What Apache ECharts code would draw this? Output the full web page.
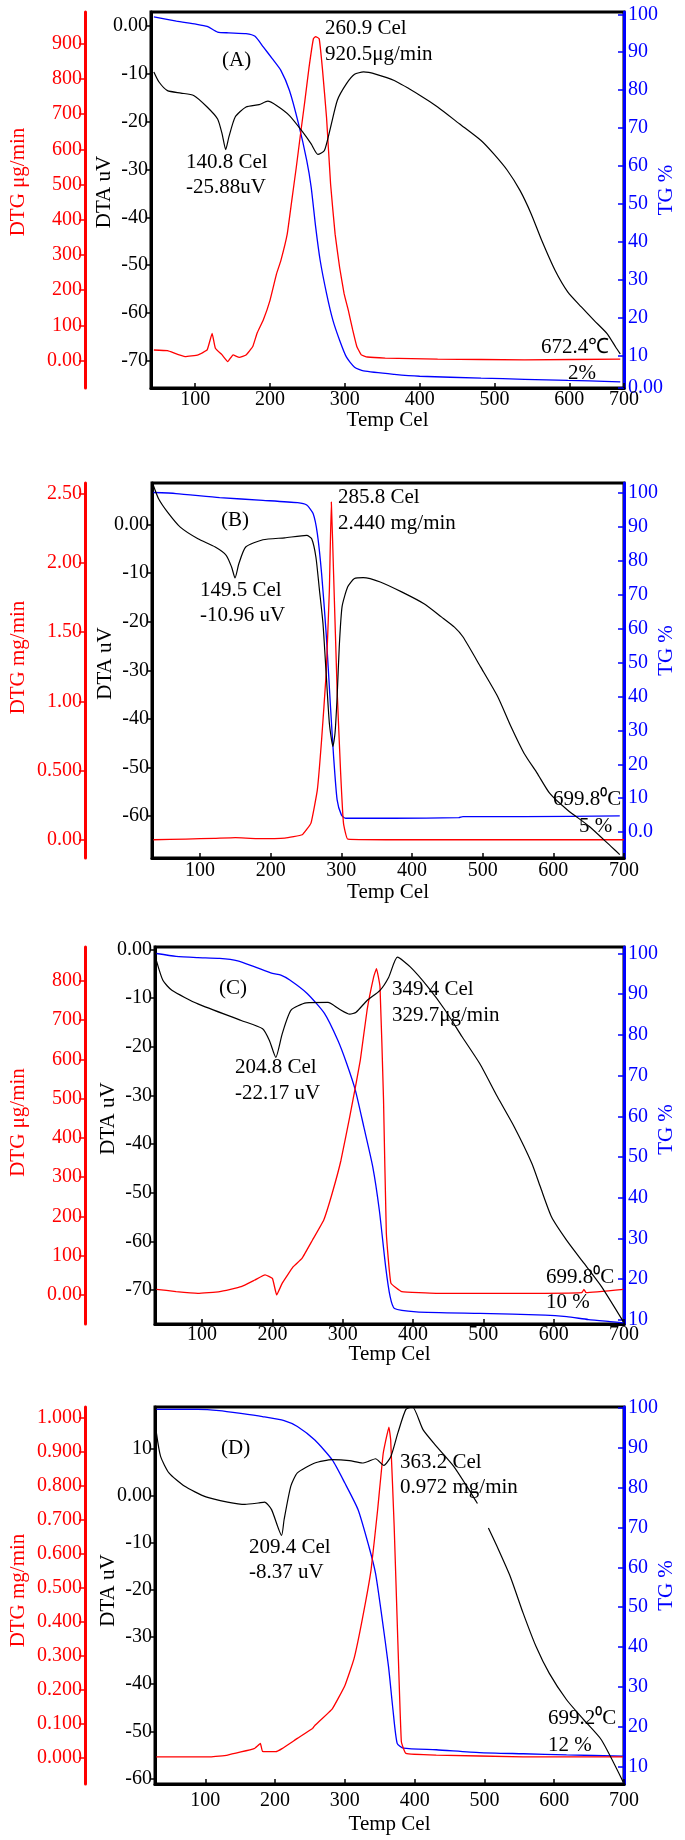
<!DOCTYPE html>
<html><head><meta charset="utf-8">
<script src="https://cdn.jsdelivr.net/npm/echarts@6/dist/echarts.min.js"></script>
<style>html,body{margin:0;padding:0;background:#fff}#c{width:685px;height:1840px}</style>
</head><body><div id="c"></div>
<script>
// ===== Panel A =====
const aTgT  = [44.8,75,101,116,130,145,168,180,191,203,214.5,226,238,249,255,261,267,275.6,284,293,302,313,325,366,400,482,540,598,627,668];
const aTgV  = [99.3,98.2,97.4,96.8,95.3,95.1,94.9,94.2,91.4,88.3,85.2,79.9,71.2,61.5,54.4,43.9,35.1,26.3,19.3,14,9.6,6.9,5.9,5.0,4.5,4.0,3.7,3.4,3.3,3.0];
const aDtgT = [44.8,63,86.6,104,116,122.7,127,136,143.6,150.6,159,168,177,182.6,191,200,208.7,214.5,223,229,235,240.7,246.5,252,258,261,265.7,270,275.6,281,287,293,299,304.6,310.5,316,322,330,354,424,540,668];
const aDtgV = [30,28,11,16,30,77,35,16,-3,16,9,16,40,77,115,171,246,284,359,453,547,642,736,830,914,920,914,830,689,500,359,265,190,143,87,40,16,10,7,4,2,4];
const aDtaT = [44.8,51.7,63,81,98,116,130,136,140.8,145,153.5,168,185.5,197,208.7,226,243.6,255,264,272.7,281,290,302,313,325,342,366,400.6,424,453,482,499,517,534,549,563,581,598,616,633,650.6,662,668];
const aDtaV = [-9.7,-11.8,-13.6,-14.1,-14.6,-17.0,-19.5,-22.6,-25.88,-23.3,-19.1,-17.0,-16.5,-15.8,-16.7,-18.8,-22.2,-24.7,-26.9,-26.1,-21.2,-15.6,-12.2,-10.2,-9.7,-10.2,-11.5,-14.6,-17.0,-20.5,-24,-26.8,-30.2,-34.4,-39.3,-44.8,-51.1,-55.6,-58.7,-61.5,-64.3,-67.1,-68.5];
const aXTicks = [100,200,300,400,500,600,673];
const aXLabels = ['100','200','300','400','500','600','700'];
const aDtgTicks = [0,100,200,300,400,500,600,700,800,900];
const aDtgLabels = ['0.00','100','200','300','400','500','600','700','800','900'];
const aDtaTicks = [0,-10,-20,-30,-40,-50,-60,-70];
const aDtaLabels = ['0.00','-10','-20','-30','-40','-50','-60','-70'];
const aTgTicks = [1.4,10,20,30,40,50,60,70,80,90,100];
const aTgLabels = ['0.00','10','20','30','40','50','60','70','80','90','100'];

// ===== Panel B =====
const bTgT  = [34,66,127.7,189,238,251,260,266,272,278.5,284.6,289,294,300,306,374,466,472,558,694];
const bTgV  = [100,99.7,98.5,97.7,97,96.3,93.8,87.9,76.2,58.5,37,22.3,9.5,5.1,4.1,4.1,4.3,4.6,4.6,4.8];
const bDtgT = [34,80,120,150,180,220,244.6,257,266,272,278.5,283,285.8,289,294,299,303,309,400,550,700];
const bDtgV = [0.0,0.005,0.01,0.015,0.008,0.012,0.036,0.12,0.36,0.72,1.20,1.80,2.44,1.92,1.08,0.48,0.12,0.005,0.0,0.0,0.0];
const bDtaT = [34,41.5,54,72,97,121.5,137,144.6,149.5,155,164.6,189,220,251,258,264,269,274,278.5,283,288,291,294,297,301,309,318.5,331,355,386,417,441.5,460,472,497,521.5,540,558.5,577,595,620,651,681.5,694];
const bDtaV = [8.1,5.3,2.6,-0.5,-2.9,-4.6,-6.3,-8.7,-10.96,-8.0,-4.6,-3.1,-2.7,-2.2,-2.9,-6.7,-13.5,-20.4,-30.7,-40.9,-45.7,-43,-35.5,-25.2,-16.9,-12.8,-11.1,-10.9,-11.8,-13.9,-16.3,-19,-21.1,-23.1,-29.3,-35.5,-41.6,-47.1,-51.2,-55.4,-58.8,-62.2,-66.3,-68];
const bXTicks = [100,200,300,400,500,600,700];
const bXLabels = ['100','200','300','400','500','600','700'];
const bDtgTicks = [0,0.5,1,1.5,2,2.5];
const bDtgLabels = ['0.00','0.500','1.00','1.50','2.00','2.50'];
const bDtaTicks = [0,-10,-20,-30,-40,-50,-60];
const bDtaLabels = ['0.00','-10','-20','-30','-40','-50','-60'];
const bTgTicks = [0,10,20,30,40,50,60,70,80,90,100];
const bTgLabels = ['0.0','10','20','30','40','50','60','70','80','90','100'];

// ===== Panel C =====
const cTgT  = [35,63,94,125,150.6,175,200,212,224.7,249.4,274,293,305.6,318,330,342.7,352,361,367.4,373.6,404.5,495,587.7,618.5,649.4,680,699];
const cTgV  = [100,99.3,99,98.8,98.2,96.7,95.1,94.7,93.5,90.2,85.3,78.7,73,66.4,57.4,47.6,37,23.1,15.7,12.8,12.0,11.6,11.2,10.8,10.1,9.6,9.3];
const cDtgT = [35,63,94,125,155.6,175,189.5,200,206,214,229.6,242,257,273,285,297.5,310,319,325,334.6,344,348,353,358,362,368.5,384,433,557,640,643,646,699];
const cDtgV = [14.4,8.5,4.2,8.5,21,38,51,42,0,30,72,93,140,191,259,343,454,539,598,725,810,831,785,497,157,30,8.5,4.2,4.2,6,14,6,14.4];
const cDtaT = [35,44.4,57,94,155.6,186,195.7,204.8,214,226.5,248,279,294.4,310,319,334.6,353,365.4,377.8,396,421,445.7,470,495,520,544,569,581,597,618.5,643,668,699];
const cDtaV = [-2.3,-6.4,-8.4,-11.2,-14.6,-16.3,-18.7,-22.17,-17.3,-12.5,-11,-10.9,-12.2,-13.3,-12.9,-10.5,-8.4,-5.7,-1.6,-3.6,-7.7,-12.5,-18,-23.5,-30.3,-36.5,-44,-48.8,-55,-59.8,-64.5,-69.3,-76.5];
const cXTicks = [100,200,300,400,500,600,700];
const cXLabels = ['100','200','300','400','500','600','700'];
const cDtgTicks = [0,100,200,300,400,500,600,700,800];
const cDtgLabels = ['0.00','100','200','300','400','500','600','700','800'];
const cDtaTicks = [0,-10,-20,-30,-40,-50,-60,-70];
const cDtaLabels = ['0.00','-10','-20','-30','-40','-50','-60','-70'];
const cTgTicks = [10,20,30,40,50,60,70,80,90,100];
const cTgLabels = ['10','20','30','40','50','60','70','80','90','100'];

// ===== Panel D =====
const dTgT  = [30,89,120,151,182,213,232,257,282,300,319,334.6,344,353,362.6,369,375,384,431,493,555.5,617.7,698.6];
const dTgV  = [99.7,99.7,99.4,98.7,97.9,96.9,95.4,92,87,81.2,74.5,65.2,58.5,47.7,35.1,24.2,15.8,14.6,14.2,13.5,13.2,12.9,12.6];
const dDtgT = [30,107.5,132,170,179,182,201,210,232,253.7,257,282,300,313,325,337.7,347,355,363.2,365.7,370.7,376,381,387.5,431,555.5,698.6];
const dDtgV = [0.003,0.003,0.008,0.027,0.042,0.019,0.018,0.027,0.057,0.086,0.095,0.144,0.212,0.290,0.407,0.554,0.729,0.895,0.972,0.934,0.680,0.339,0.047,0.013,0.008,0.003,0.003];
const dDtaT = [30,36,48,70,101,132,157,176,185,195,209.4,213,222.6,232,257,282,306.6,325,334.6,344,356,366,376,387.5,397,412,431,456,474.6,490,497,505.7,518,537,555.5,574,593,617.7,642.6,667.5,698.6];
const dDtaV = [13.4,8.4,4.9,2.1,-0.2,-1.3,-1.8,-1.5,-1.3,-2.9,-8.37,-5,2.1,4.9,7.0,7.7,7.5,7.0,7.4,7.9,6.5,8.4,13.4,18.4,18.9,14.1,10.6,6.3,2.1,-1.6,null,-6.8,-10.7,-17.1,-24.9,-32,-37.7,-43.3,-47.6,-51.8,-60.7];
const dXTicks = [100,200,300,400,500,600,700];
const dXLabels = ['100','200','300','400','500','600','700'];
const dDtgTicks = [0,0.1,0.2,0.3,0.4,0.5,0.6,0.7,0.8,0.9,1.0];
const dDtgLabels = ['0.000','0.100','0.200','0.300','0.400','0.500','0.600','0.700','0.800','0.900','1.000'];
const dDtaTicks = [10,0,-10,-20,-30,-40,-50,-60];
const dDtaLabels = ['10','0.00','-10','-20','-30','-40','-50','-60'];
const dTgTicks = [10,20,30,40,50,60,70,80,90,100];
const dTgLabels = ['10','20','30','40','50','60','70','80','90','100'];

// ===== layout / style (not data) =====
const FONT = "'Liberation Serif','Times New Roman',serif";
const FS = 20;
const RED = '#ff0000', BLUE = '#0000ff', BLACK = '#000000';

const panels = [
  {grid:{left:150,top:12,width:476,height:376}, x:[41,673], dtg:[-78,990], dta:[-75.6,2.8], tgR:[1.4,100.6],
   xT:aXTicks,xL:aXLabels, gT:aDtgTicks,gL:aDtgLabels, dT:aDtaTicks,dL:aDtaLabels, tT:aTgTicks,tL:aTgLabels,
   dtgName:'DTG \u03bcg/min', tgS:[aTgT,aTgV], dtgS:[aDtgT,aDtgV], dtaS:[aDtaT,aDtaV], xm:2, xg:22, np:[36,16,20],
   texts:[['(A)',222,60],['260.9 Cel',325,28],['920.5\u03bcg/min',325,54],['140.8 Cel',186,162],['-25.88uV',186,187],['672.4\u2103',541,347],['2%',568,373]]},
  {grid:{left:151,top:483,width:476,height:375}, x:[32,700], dtg:[-0.132,2.577], dta:[-68.7,8.6], tgR:[-7.6,102.8],
   xT:bXTicks,xL:bXLabels, gT:bDtgTicks,gL:bDtgLabels, dT:bDtaTicks,dL:bDtaLabels, tT:bTgTicks,tL:bTgLabels,
   dtgName:'DTG mg/min', tgS:[bTgT,bTgV], dtgS:[bDtgT,bDtgV], dtaS:[bDtaT,bDtaV], xm:3, xg:24, np:[26,14,40],
   texts:[['(B)',221,520],['285.8 Cel',338,497],['2.440 mg/min',338,523],['149.5 Cel',200,590],['-10.96 uV',200,615],['699.8\u2070C',553,799],['5 %',579,826]]},
  {grid:{left:154,top:947,width:474,height:377}, x:[33,700], dtg:[-74,886], dta:[-77,0.5], tgR:[9.0,101.6],
   xT:cXTicks,xL:cXLabels, gT:cDtgTicks,gL:cDtgLabels, dT:cDtaTicks,dL:cDtaLabels, tT:cTgTicks,tL:cTgLabels,
   dtgName:'DTG \u03bcg/min', tgS:[cTgT,cTgV], dtgS:[cDtgT,cDtgV], dtaS:[cDtaT,cDtaV], xm:1, xg:20, np:[26,34,12],
   texts:[['(C)',219,988],['349.4 Cel',392,989],['329.7\u03bcg/min',392,1015],['204.8 Cel',235,1067],['-22.17 uV',235,1093],['699.8\u2070C',546,1277],['10 %',546,1302]]},
  {grid:{left:154,top:1407,width:474,height:377}, x:[28,700], dtg:[-0.077,1.031], dta:[-61.2,18.9], tgR:[5.6,100.3],
   xT:dXTicks,xL:dXLabels, gT:dDtgTicks,gL:dDtgLabels, dT:dDtaTicks,dL:dDtaLabels, tT:dTgTicks,tL:dTgLabels,
   dtgName:'DTG mg/min', tgS:[dTgT,dTgV], dtgS:[dDtgT,dDtgV], dtaS:[dDtaT,dDtaV], xm:7, xg:30, np:[10,10,20],
   texts:[['(D)',221,1448],['363.2 Cel',400,1462],['0.972 mg/min',400,1487],['209.4 Cel',249,1547],['-8.37 uV',249,1572],['699.2\u2070C',548,1718],['12 %',548,1745]]}
];

function fmt(vals, labels){
  return function(v){
    for (let i=0;i<vals.length;i++){ if (Math.abs(vals[i]-v) < 1e-6*Math.max(1,Math.abs(v))) return labels[i]; }
    return '';
  };
}
function pairs(t, v){ return t.map((x,i)=> [x, v[i]]); }

const grids=[], xAxes=[], yAxes=[], series=[], graphics=[];
panels.forEach((p, i) => {
  grids.push(Object.assign({show:true, borderColor:BLACK, borderWidth:3, backgroundColor:'transparent'}, p.grid));
  xAxes.push({type:'value', gridIndex:i, min:p.x[0], max:p.x[1],
    axisLine:{show:true,onZero:false,lineStyle:{color:BLACK,width:3}},
    axisTick:{show:true,inside:true,length:5,customValues:p.xT,lineStyle:{color:BLACK,width:1.5}},
    axisLabel:{customValues:p.xT, formatter:fmt(p.xT,p.xL), color:BLACK, fontFamily:FONT, fontSize:FS, margin:p.xm},
    splitLine:{show:false},
    name:'Temp Cel', nameLocation:'middle', nameGap:p.xg, nameMoveOverlap:false, nameTextStyle:{color:BLACK,fontFamily:FONT,fontSize:21}});
  // DTG (red, outer left)
  yAxes.push({type:'value', gridIndex:i, position:'left', offset:p.grid.left-84, min:p.dtg[0], max:p.dtg[1],
    axisLine:{show:true,onZero:false,lineStyle:{color:RED,width:3}},
    axisTick:{show:true,inside:false,length:6,customValues:p.gT,lineStyle:{color:RED,width:1.5}},
    axisLabel:{customValues:p.gT, formatter:fmt(p.gT,p.gL), color:RED, fontFamily:FONT, fontSize:FS, margin:3},
    splitLine:{show:false},
    name:p.dtgName, nameLocation:'middle', nameRotate:90, nameGap:56, nameMoveOverlap:false,
    nameTextStyle:{color:RED,fontFamily:FONT,fontSize:21,padding:[0,0,0,p.np[0]]}});
  // DTA (black, box left)
  yAxes.push({type:'value', gridIndex:i, position:'left', offset:0, min:p.dta[0], max:p.dta[1],
    axisLine:{show:true,onZero:false,lineStyle:{color:BLACK,width:3}},
    axisTick:{show:true,inside:false,length:4,customValues:p.dT,lineStyle:{color:BLACK,width:1.5}},
    axisLabel:{customValues:p.dT, formatter:fmt(p.dT,p.dL), color:BLACK, fontFamily:FONT, fontSize:FS, margin:3},
    splitLine:{show:false},
    name:'DTA uV', nameLocation:'middle', nameRotate:90, nameGap:36, nameMoveOverlap:false,
    nameTextStyle:{color:BLACK,fontFamily:FONT,fontSize:21,padding:[0,0,0,p.np[1]]}});
  // TG (blue, right)
  yAxes.push({type:'value', gridIndex:i, position:'right', offset:0, min:p.tgR[0], max:p.tgR[1],
    axisLine:{show:true,onZero:false,lineStyle:{color:BLUE,width:3}},
    axisTick:{show:true,inside:true,length:6,customValues:p.tT,lineStyle:{color:BLUE,width:1.5}},
    axisLabel:{customValues:p.tT, formatter:fmt(p.tT,p.tL), color:BLUE, fontFamily:FONT, fontSize:FS, margin:4},
    splitLine:{show:false},
    name:'TG %', nameLocation:'middle', nameRotate:90, nameGap:32, nameMoveOverlap:false,
    nameTextStyle:{color:BLUE,fontFamily:FONT,fontSize:21,padding:[0,0,0,p.np[2]]}});
  const base = {type:'line', xAxisIndex:i, showSymbol:false, symbol:'none', animation:false, connectNulls:false, clip:true};
  series.push(Object.assign({}, base, {name:'TG'+i, yAxisIndex:3*i+2, smooth:0.2, data:pairs(p.tgS[0],p.tgS[1]), lineStyle:{color:BLUE,width:1.3}}));
  series.push(Object.assign({}, base, {name:'DTG'+i, yAxisIndex:3*i, smooth:0.1, data:pairs(p.dtgS[0],p.dtgS[1]), lineStyle:{color:RED,width:1.3}}));
  series.push(Object.assign({}, base, {name:'DTA'+i, yAxisIndex:3*i+1, smooth:0.2, data:pairs(p.dtaS[0],p.dtaS[1]), lineStyle:{color:BLACK,width:1.2}}));
  p.texts.forEach(t => graphics.push({type:'text', x:t[1], y:t[2], z:100,
    style:{text:t[0], fill:BLACK, font:'21px '+FONT, verticalAlign:'middle', align:'left'}}));
});

const chart = echarts.init(document.getElementById('c'), null, {renderer:'canvas'});
chart.setOption({animation:false, backgroundColor:'#ffffff', grid:grids, xAxis:xAxes, yAxis:yAxes, series:series, graphic:graphics});
</script></body></html>
